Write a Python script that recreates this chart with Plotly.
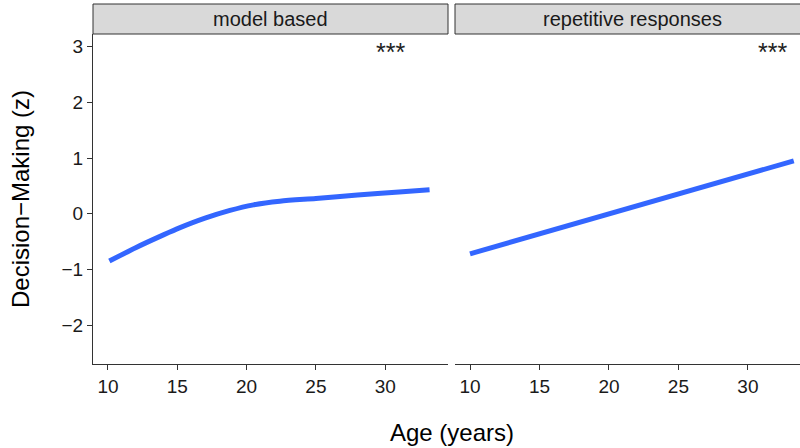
import plotly.graph_objects as go

# Data
age_mb = [10.1, 12.0, 14.0, 15.2, 17.0, 18.8, 20.5, 22.4, 25.0, 28.0, 31.0, 33.2]
dm_mb = [-0.85, -0.61, -0.38, -0.25, -0.08, 0.06, 0.16, 0.225, 0.275, 0.335, 0.39, 0.43]
age_rr = [10.0, 33.3]
dm_rr = [-0.72, 0.95]
panels = ["model based", "repetitive responses"]
sig_labels = ["***", "***"]
sig_x = [30.36, 31.76]
sig_y = [2.9, 2.9]
y_ticks = [-2, -1, 0, 1, 2, 3]
x_ticks = [10, 15, 20, 25, 30]

FONT = "Liberation Sans, Arial, sans-serif"
LINE = "#3366FF"
AX = "#333333"
TXT = "#1a1a1a"

fig = go.Figure()
fig.add_trace(go.Scatter(x=age_mb, y=dm_mb, mode="lines", line=dict(color=LINE, width=5, shape="spline", smoothing=0.8),
                         xaxis="x", yaxis="y", showlegend=False))
fig.add_trace(go.Scatter(x=age_rr, y=dm_rr, mode="lines", line=dict(color=LINE, width=5),
                         xaxis="x2", yaxis="y2", showlegend=False))

W = 707.0
d1 = [0, 355 / W]
d2 = [362 / W, 1]
xcommon = dict(showline=True, linecolor=AX, linewidth=1, ticks="outside", ticklen=5, tickcolor=AX,
               tickvals=x_ticks, showgrid=False, zeroline=False,
               tickfont=dict(family=FONT, size=19, color=TXT))
fig.update_layout(
    width=800, height=448,
    margin=dict(l=93, r=0, t=34, b=84),
    plot_bgcolor="white", paper_bgcolor="white",
    xaxis=dict(domain=d1, range=[8.92, 34.53], anchor="y", **xcommon),
    xaxis2=dict(domain=d2, range=[8.92, 33.75], anchor="y2", **xcommon),
    yaxis=dict(range=[-2.70, 3.23], tickvals=y_ticks, showline=True, linecolor=AX, linewidth=1,
               ticks="outside", ticklen=5, tickcolor=AX, showgrid=False, zeroline=False,
               tickfont=dict(family=FONT, size=19, color=TXT),
               title=dict(text="Decision−Making (z)", font=dict(family=FONT, size=24, color="black"), standoff=25)),
    yaxis2=dict(range=[-2.70, 3.23], anchor="x2", matches="y", showticklabels=False, showline=False,
                ticks="", showgrid=False, zeroline=False),
    showlegend=False,
)

# x-axis title centered across panels
fig.add_annotation(text="Age (years)", xref="paper", yref="paper", x=(452 - 93) / W, xanchor="center",
                   y=0, yshift=-68, showarrow=False, yanchor="middle",
                   font=dict(family=FONT, size=24, color="black"))

# Strips
strip_h = 30 / 330
for i, name in enumerate(panels):
    xr = "x domain" if i == 0 else "x2 domain"
    fig.add_shape(type="rect", xref=xr, yref="paper", x0=0, x1=1 if i == 0 else 1.05, y0=1.0, y1=1 + strip_h,
                  fillcolor="#d9d9d9", line=dict(color="#333333", width=1))
    dom = d1 if i == 0 else [d2[0], d2[0] + (d1[1] - d1[0])]
    fig.add_annotation(text=name, xref="paper", yref="paper", x=(dom[0] + dom[1]) / 2, y=1 + strip_h / 2,
                       xanchor="center", yanchor="middle",
                       showarrow=False, font=dict(family=FONT, size=20, color=TXT))

# Significance labels
for i, (lab, sx, sy) in enumerate(zip(sig_labels, sig_x, sig_y)):
    fig.add_annotation(text=lab, x=sx, y=sy, xref="x" if i == 0 else "x2", yref="y" if i == 0 else "y2",
                       xanchor="center", yanchor="middle",
                       showarrow=False, font=dict(family=FONT, size=25, color="#222222"))

fig.write_html("out.html")
